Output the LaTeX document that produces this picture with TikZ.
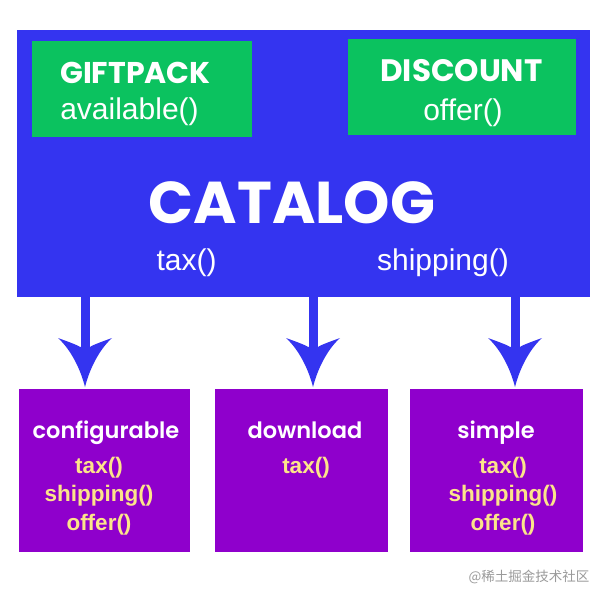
\documentclass[tikz,border=0pt]{standalone}
\usepackage{fontspec}
\setmainfont{Liberation Sans}
\newfontfamily\pop{Poppins}
\newfontfamily\popsb{Poppins SemiBold}
\newfontfamily\cjk{Noto Sans CJK SC}
\usetikzlibrary{arrows.meta}
\definecolor{catblue}{HTML}{3434F0}
\definecolor{fgreen}{HTML}{0BC25F}
\definecolor{fpurple}{HTML}{8F00CC}
\definecolor{fyellow}{HTML}{FCE48A}
\definecolor{wmgray}{HTML}{9A9A9A}
\pgfdeclarearrow{
  name = Wing,
  defaults = {length = +49pt, width = +54pt},
  parameters = {\the\pgfarrowlength,\the\pgfarrowwidth},
  setup code = {
    \pgfarrowssettipend{0pt}
    \pgfarrowssetbackend{-\pgfarrowlength}
    \pgfarrowssetlineend{-.8\pgfarrowlength}
    \pgfarrowssavethe\pgfarrowlength
    \pgfarrowssavethe\pgfarrowwidth
  },
  drawing code = {
    \pgfpathmoveto{\pgfpoint{0pt}{0pt}}
    \pgfpathcurveto{\pgfpoint{-.41\pgfarrowlength}{.095\pgfarrowwidth}}
                   {\pgfpoint{-.78\pgfarrowlength}{.28\pgfarrowwidth}}
                   {\pgfpoint{-1\pgfarrowlength}{.5\pgfarrowwidth}}
    \pgfpathcurveto{\pgfpoint{-.92\pgfarrowlength}{.3\pgfarrowwidth}}
                   {\pgfpoint{-.86\pgfarrowlength}{.15\pgfarrowwidth}}
                   {\pgfpoint{-.82\pgfarrowlength}{.095\pgfarrowwidth}}
    \pgfpathlineto{\pgfpoint{-.82\pgfarrowlength}{-.095\pgfarrowwidth}}
    \pgfpathcurveto{\pgfpoint{-.86\pgfarrowlength}{-.15\pgfarrowwidth}}
                   {\pgfpoint{-.92\pgfarrowlength}{-.3\pgfarrowwidth}}
                   {\pgfpoint{-1\pgfarrowlength}{-.5\pgfarrowwidth}}
    \pgfpathcurveto{\pgfpoint{-.78\pgfarrowlength}{-.28\pgfarrowwidth}}
                   {\pgfpoint{-.41\pgfarrowlength}{-.095\pgfarrowwidth}}
                   {\pgfpoint{0pt}{0pt}}
    \pgfpathclose
    \pgfusepathqfill
  }
}
\tikzset{
  box/.style={rectangle, inner sep=0pt, outer sep=0pt},
  catbox/.style={box, fill=catblue, minimum width=573pt, minimum height=267pt},
  greenbox/.style={box, fill=fgreen, minimum height=96pt},
  prodbox/.style={box, fill=fpurple, minimum height=163pt},
  txt/.style={inner sep=0pt, anchor=base, text=white},
  head/.style={txt, font=\pop\bfseries\fontsize{30}{30}\selectfont},
  meth/.style={txt, font=\fontsize{30}{30}\selectfont},
  prodname/.style={txt, font=\popsb\fontsize{22.5}{22.5}\selectfont},
  prodmeth/.style={txt, text=fyellow, font=\bfseries\fontsize{22.5}{22.5}\selectfont},
  conn/.style={draw=catblue, line width=9pt, -{Wing[length=49pt,width=54pt]}, shorten >=2pt},
}
\begin{document}
\begin{tikzpicture}[x=1pt,y=-1pt]
\fill[white] (0,0) rectangle (600,600);
\useasboundingbox (0,0) rectangle (600,600);
% catalog
\node[catbox] (cat) at (303.5,163.5) {};
\node[greenbox, minimum width=220pt] (gift) at (142,89) {};
\node[greenbox, minimum width=228pt] (disc) at (462,87) {};
\node[head] (giftt) at (135.5,83) {GIFTPACK};
\node[meth] (gifta) at (129.5,119) {available()};
\node[head, font=\pop\bfseries\fontsize{31}{31}\selectfont] (disct) at (461.5,81.5) {DISCOUNT};
\node[meth] (disco) at (463,120) {offer()};
\node[txt, font=\pop\bfseries\fontsize{59}{59}\selectfont] (catt) at (292,223) {CATALOG};
\node[meth] (cattax) at (186.5,270) {tax()};
\node[meth] (catship) at (443,270) {shipping()};
% products
\node[prodbox, minimum width=171pt] (cfg) at (104.5,470.5) {};
\node[prodbox, minimum width=173pt] (dl) at (301.5,470.5) {};
\node[prodbox, minimum width=173pt] (smp) at (496.5,470.5) {};
\node[prodname] (cfgt) at (106,438) {configurable};
\node[prodmeth] (cfg1) at (99,473) {tax()};
\node[prodmeth] (cfg2) at (99,501.5) {shipping()};
\node[prodmeth] (cfg3) at (99,530) {offer()};
\node[prodname] (dlt) at (305,438) {download};
\node[prodmeth] (dl1) at (306,473) {tax()};
\node[prodname] (smpt) at (496,438) {simple};
\node[prodmeth] (smp1) at (503,473) {tax()};
\node[prodmeth] (smp2) at (503,501.5) {shipping()};
\node[prodmeth] (smp3) at (503,530) {offer()};
% connectors
\coordinate (s1) at (85,290);
\coordinate (s2) at (313,290);
\coordinate (s3) at (515,290);
\draw[conn] (s1) -- (s1 |- cfg.north);
\draw[conn] (s2) -- (s2 |- dl.north);
\draw[conn] (s3) -- (s3 |- smp.north);
% watermark
\node[txt, text=wmgray, font=\cjk\fontsize{13.5}{13.5}\selectfont] (wm) at (529,581) {@稀土掘金技术社区};
\end{tikzpicture}
\end{document}
